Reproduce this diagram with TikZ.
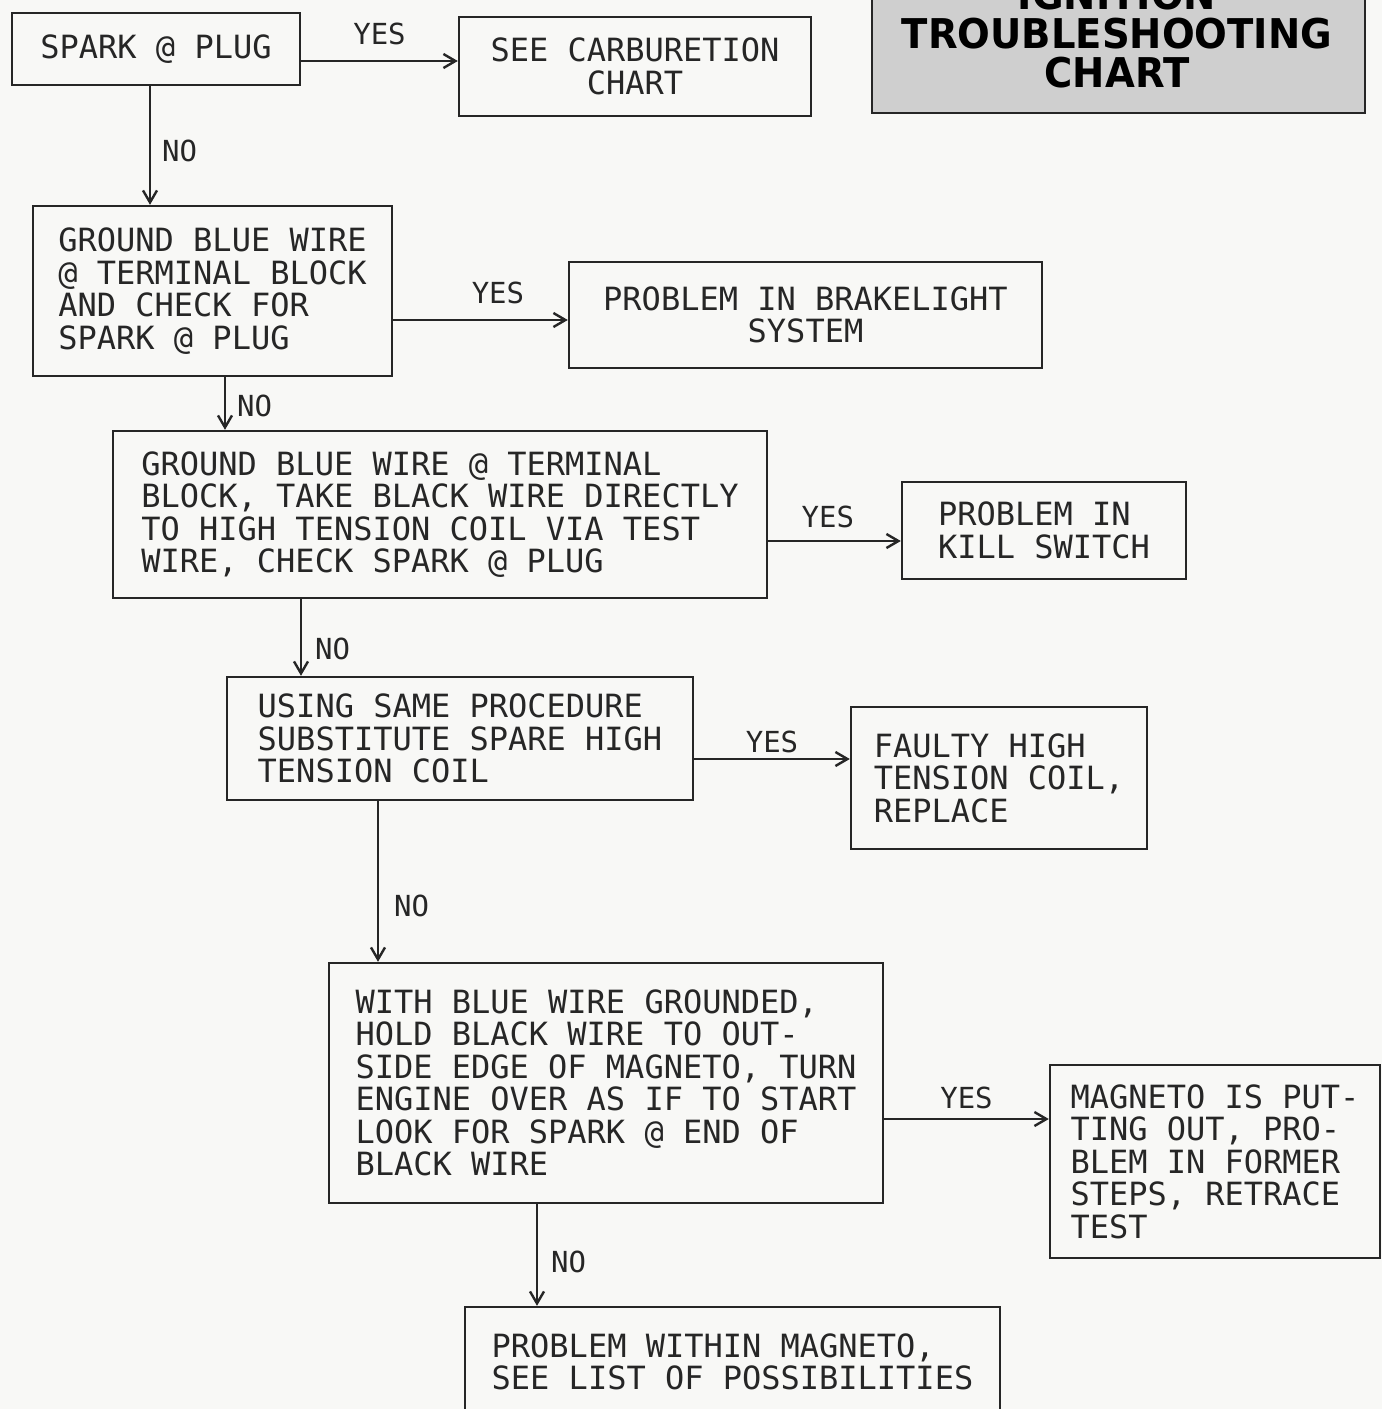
\documentclass[tikz,border=0pt]{standalone}
\usepackage{fontspec}
\usepackage{graphicx}
\setmonofont{DejaVu Sans Mono}
\newfontfamily\titlefont{DejaVu Sans}
\usetikzlibrary{arrows.meta}

\definecolor{ink}{HTML}{262626}
\definecolor{paper}{HTML}{F8F8F6}
\definecolor{plate}{HTML}{CFCFCF}

\tikzset{
  box/.style={draw=ink, line width=2.4pt, text=ink, align=left, inner sep=0pt,
    font=\ttfamily\fontsize{32}{32.5}\selectfont},
  lbl/.style={text=ink, inner sep=3pt, font=\ttfamily\fontsize{29}{30}\selectfont},
  arr/.style={draw=ink, line width=2.4pt,
    -{Straight Barb[length=12pt,width=14pt,line width=2.4pt]}}
}

\begin{document}
\begin{tikzpicture}[x=1pt,y=-1pt]
\useasboundingbox (0,0) rectangle (1382,1409);
\fill[paper] (0,0) rectangle (1382,1409);
\clip (0,0) rectangle (1382,1409);

\node[draw=ink, fill=plate, line width=2.4pt, minimum width=493pt, minimum height=200pt] (plate) at (1118.5,13) {};
\node[text=black, inner sep=0pt, align=center, font=\titlefont\bfseries\fontsize{41}{39}\selectfont] (title) at (1117,34)
  {\scalebox{0.94}[1]{IGNITION}\\\scalebox{0.94}[1]{TROUBLESHOOTING}\\\scalebox{0.94}[1]{CHART}};

\node[box, minimum width=288pt, minimum height=72pt] (spark) at (156,49) {SPARK @ PLUG};
\node[box, align=center, minimum width=352pt, minimum height=99pt] (carb) at (635,66.5) {SEE CARBURETION\\CHART};
\node[box, minimum width=359pt, minimum height=170pt] (gb1) at (212.5,291)
  {GROUND BLUE WIRE\\@ TERMINAL BLOCK\\AND CHECK FOR\\SPARK @ PLUG};
\node[box, align=center, minimum width=473pt, minimum height=106pt] (brake) at (805.5,315) {PROBLEM IN BRAKELIGHT\\SYSTEM};
\node[box, minimum width=654pt, minimum height=167pt] (gb2) at (440,514.5)
  {GROUND BLUE WIRE @ TERMINAL\\BLOCK, TAKE BLACK WIRE DIRECTLY\\TO HIGH TENSION COIL VIA TEST\\WIRE, CHECK SPARK @ PLUG};
\node[box, minimum width=284pt, minimum height=97pt] (kill) at (1044,530.5) {PROBLEM IN\\KILL SWITCH};
\node[box, minimum width=466pt, minimum height=123pt] (using) at (460,738.5)
  {USING SAME PROCEDURE\\SUBSTITUTE SPARE HIGH\\TENSION COIL};
\node[box, minimum width=296pt, minimum height=142pt] (faulty) at (999,778) {FAULTY HIGH\\TENSION COIL,\\REPLACE};
\node[box, minimum width=554pt, minimum height=240pt] (with) at (606,1083)
  {WITH BLUE WIRE GROUNDED,\\HOLD BLACK WIRE TO OUT-\\SIDE EDGE OF MAGNETO, TURN\\ENGINE OVER AS IF TO START\\LOOK FOR SPARK @ END OF\\BLACK WIRE};
\node[box, minimum width=330pt, minimum height=193pt] (magneto) at (1215,1161.5)
  {MAGNETO IS PUT-\\TING OUT, PRO-\\BLEM IN FORMER\\STEPS, RETRACE\\TEST};
\node[box, minimum width=535pt, minimum height=110pt] (within) at (732.5,1362)
  {PROBLEM WITHIN MAGNETO,\\SEE LIST OF POSSIBILITIES};

\draw[arr] (spark.east |- 0,61) -- (carb.west |- 0,61) node[lbl, midway, above=12pt] {YES};
\draw[arr] (gb1.east |- 0,320) -- (brake.west |- 0,320) node[lbl, pos=0.6, above=12pt] {YES};
\draw[arr] (gb2.east |- 0,541) -- (kill.west |- 0,541) node[lbl, pos=0.45, above=9pt] {YES};
\draw[arr] (using.east |- 0,759) -- (faulty.west |- 0,759) node[lbl, midway, above=2pt] {YES};
\draw[arr] (with.east |- 0,1119) -- (magneto.west |- 0,1119) node[lbl, midway, above=6pt] {YES};

\draw[arr] (spark.south -| 150,0) -- (gb1.north -| 150,0) node[lbl, pos=0.55, right=8pt] {NO};
\draw[arr] (gb1.south -| 225,0) -- (gb2.north -| 225,0) node[lbl, pos=0.55, right=8pt] {NO};
\draw[arr] (gb2.south -| 301,0) -- (using.north -| 301,0) node[lbl, pos=0.65, right=10pt] {NO};
\draw[arr] (using.south -| 378,0) -- (with.north -| 378,0) node[lbl, pos=0.65, right=12pt] {NO};
\draw[arr] (with.south -| 537,0) -- (within.north -| 537,0) node[lbl, pos=0.57, right=10pt] {NO};
\end{tikzpicture}
\end{document}
